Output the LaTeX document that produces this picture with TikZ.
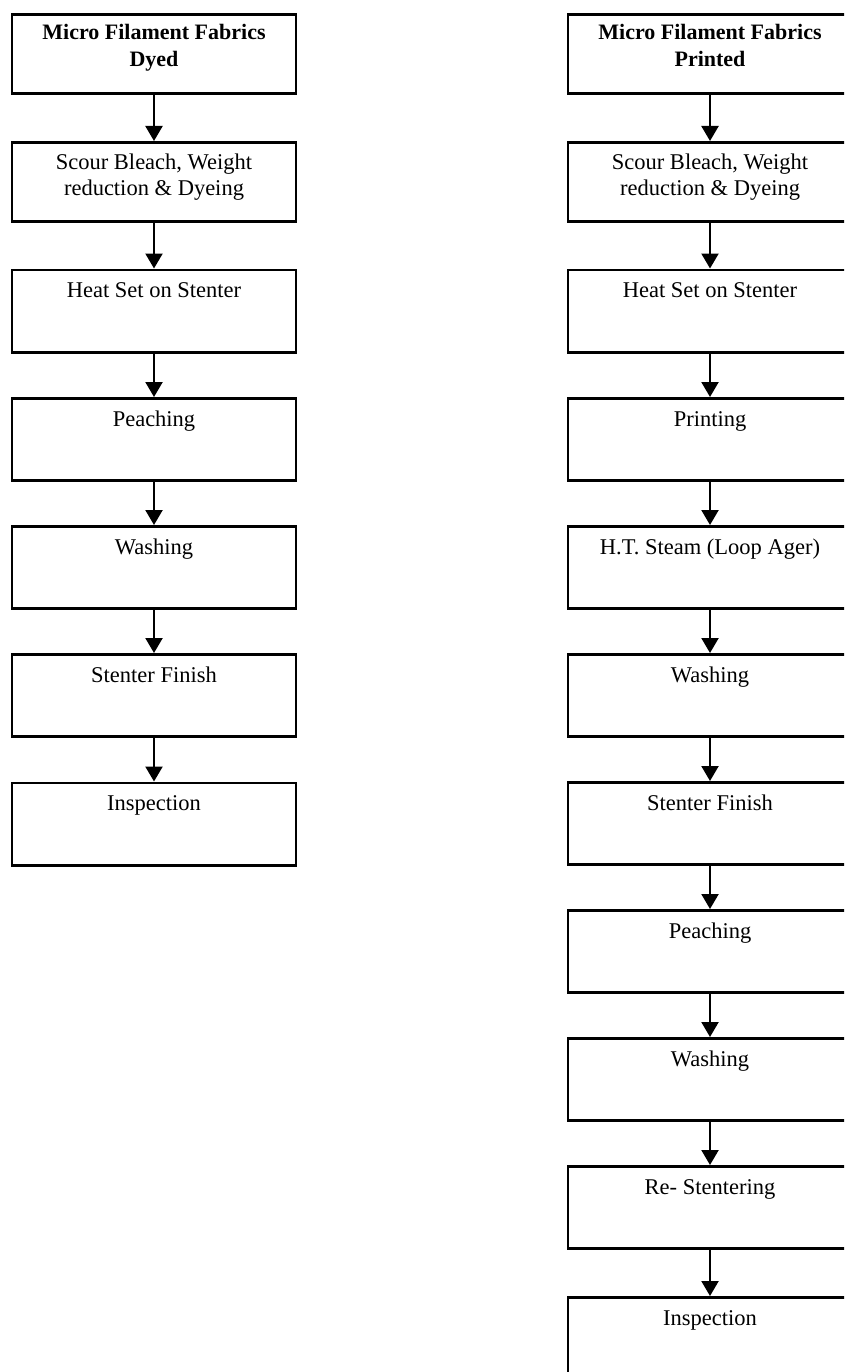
\documentclass[tikz,border=0pt]{standalone}
\usepackage{fontspec}
\setmainfont{Liberation Serif}
\usetikzlibrary{arrows.meta}
\begin{document}
\begin{tikzpicture}[x=1pt,y=-1pt,
  box/.style={draw, line width=2.8pt, minimum width=284pt, minimum height=82.2pt, inner sep=0pt},
  hbox/.style={box, minimum height=79.2pt},
  lbl/.style={anchor=base, align=center, font=\fontsize{22.5}{26}\selectfont, inner sep=0pt},
  tlbl/.style={lbl, font=\fontsize{22}{27}\selectfont\bfseries},
  flow/.style={line width=2.2pt, -{Triangle[width=17pt,length=15pt]}}]
\useasboundingbox (0,0) rectangle (844,1372);
\clip (0,0) rectangle (844,1372);
% ---------- left column ----------
\node[hbox] (L1) at (154,54) {};
\node[hbox] (L2) at (154,182) {};
\node[box]  (L3) at (154,311) {};
\node[box]  (L4) at (154,439.5) {};
\node[box]  (L5) at (154,567.5) {};
\node[box]  (L6) at (154,695.5) {};
\node[box]  (L7) at (154,824) {};
\node[tlbl] (L1t) at ([yshift=-54pt]L1.north) {Micro Filament Fabrics\\Dyed};
\node[lbl] (L2t) at ([yshift=-55pt]L2.north) {Scour Bleach, Weight\\reduction \& Dyeing};
\node[lbl] (L3t) at ([yshift=-29pt]L3.north) {Heat Set on Stenter};
\node[lbl] (L4t) at ([yshift=-29pt]L4.north) {Peaching};
\node[lbl] (L5t) at ([yshift=-29pt]L5.north) {Washing};
\node[lbl] (L6t) at ([yshift=-29pt]L6.north) {Stenter Finish};
\node[lbl] (L7t) at ([yshift=-29pt]L7.north) {Inspection};
\foreach \a/\b in {L1/L2,L2/L3,L3/L4,L4/L5,L5/L6,L6/L7}
  \draw[flow] (\a.south) -- (\b.north);
% ---------- right column ----------
\node[hbox] (R1) at (710,54) {};
\node[hbox] (R2) at (710,182) {};
\node[box]  (R3) at (710,311) {};
\node[box]  (R4) at (710,439.5) {};
\node[box]  (R5) at (710,567.5) {};
\node[box]  (R6) at (710,695.5) {};
\node[box]  (R7) at (710,823.5) {};
\node[box]  (R8) at (710,951.5) {};
\node[box]  (R9) at (710,1079.5) {};
\node[box]  (R10) at (710,1207.5) {};
\node[box]  (R11) at (710,1338.5) {};
\node[tlbl] (R1t) at ([yshift=-54pt]R1.north) {Micro Filament Fabrics\\Printed};
\node[lbl] (R2t) at ([yshift=-55pt]R2.north) {Scour Bleach, Weight\\reduction \& Dyeing};
\node[lbl] (R3t) at ([yshift=-29pt]R3.north) {Heat Set on Stenter};
\node[lbl] (R4t) at ([yshift=-29pt]R4.north) {Printing};
\node[lbl] (R5t) at ([yshift=-29pt]R5.north) {H.T. Steam (Loop Ager)};
\node[lbl] (R6t) at ([yshift=-29pt]R6.north) {Washing};
\node[lbl] (R7t) at ([yshift=-29pt]R7.north) {Stenter Finish};
\node[lbl] (R8t) at ([yshift=-29pt]R8.north) {Peaching};
\node[lbl] (R9t) at ([yshift=-29pt]R9.north) {Washing};
\node[lbl] (R10t) at ([yshift=-29pt]R10.north) {Re- Stentering};
\node[lbl] (R11t) at ([yshift=-29pt]R11.north) {Inspection};
\foreach \a/\b in {R1/R2,R2/R3,R3/R4,R4/R5,R5/R6,R6/R7,R7/R8,R8/R9,R9/R10,R10/R11}
  \draw[flow] (\a.south) -- (\b.north);
\end{tikzpicture}
\end{document}
